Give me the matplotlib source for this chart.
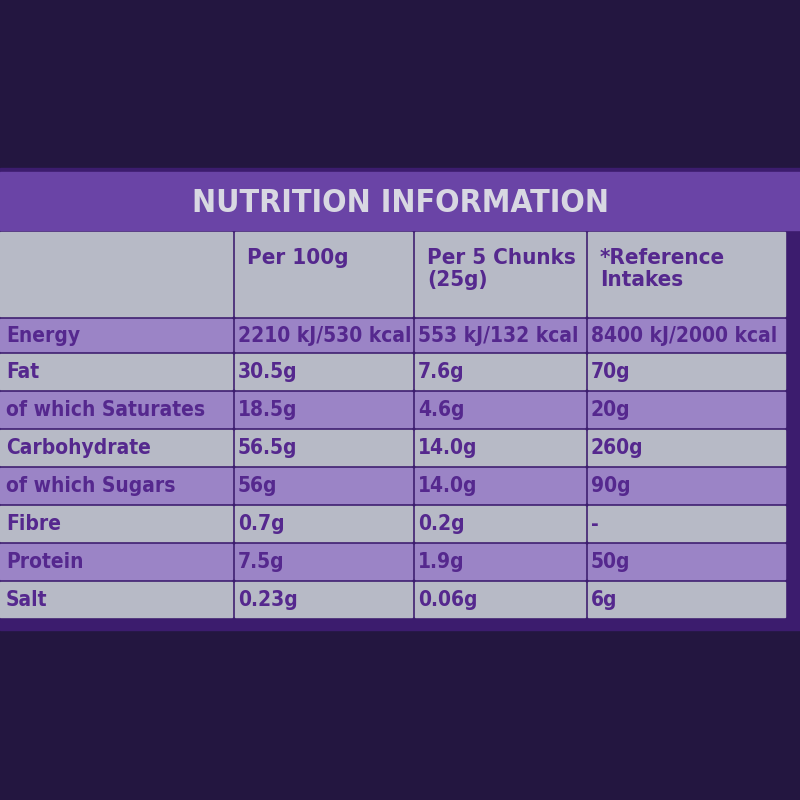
import matplotlib
matplotlib.use("Agg")
import matplotlib.pyplot as plt
from matplotlib.patches import Rectangle

title = "NUTRITION INFORMATION"
headers = ["", "Per 100g", "Per 5 Chunks\n(25g)", "*Reference\nIntakes"]
nutrients = ["Energy", "Fat", "of which Saturates", "Carbohydrate", "of which Sugars", "Fibre", "Protein", "Salt"]
per100 = ["2210 kJ/530 kcal", "30.5g", "18.5g", "56.5g", "56g", "0.7g", "7.5g", "0.23g"]
per5 = ["553 kJ/132 kcal", "7.6g", "4.6g", "14.0g", "14.0g", "0.2g", "1.9g", "0.06g"]
ref = ["8400 kJ/2000 kcal", "70g", "20g", "260g", "90g", "-", "50g", "6g"]

fig = plt.figure(figsize=(8, 8), dpi=100)
ax = fig.add_axes([0, 0, 1, 1])
ax.set_xlim(0, 800); ax.set_ylim(800, 0); ax.axis("off")
fig.patch.set_facecolor("#231640")

dark = "#3c1c6e"
purple = "#9b84c6"
grey = "#b7bac6"
txt = "#55288e"
fnt = dict(family="DejaVu Sans", fontweight="bold", fontstretch="condensed")

ax.add_patch(Rectangle((0, 168), 800, 462, color=dark))
ax.add_patch(Rectangle((0, 172), 800, 58, color="#6a44a6"))
ax.text(400, 203, title, ha="center", va="center", color="#d8d8e2", fontsize=23, **fnt)

cols = [(0, 232), (235, 412), (415, 585), (588, 785)]
for (x0, x1), h in zip(cols, headers):
    ax.add_patch(Rectangle((x0, 232), x1 - x0, 84, color=grey))
    if h:
        ax.text(x0 + 12, 248, h, ha="left", va="top", color=txt, fontsize=16, linespacing=1.15, **fnt)

y = 319
hts = [32, 35, 35, 35, 35, 35, 35, 35]
for i, (n, a, b, c) in enumerate(zip(nutrients, per100, per5, ref)):
    col = purple if i % 2 == 0 else grey
    for (x0, x1), s in zip(cols, [n, a, b, c]):
        ax.add_patch(Rectangle((x0, y), x1 - x0, hts[i], color=col))
        ax.text(x0 + 3 if x0 else 6, y + hts[i] / 2 + 1, s, ha="left", va="center", color=txt, fontsize=15, **fnt)
    y += hts[i] + 3

fig.savefig("out.png", dpi=100, facecolor=fig.get_facecolor())
